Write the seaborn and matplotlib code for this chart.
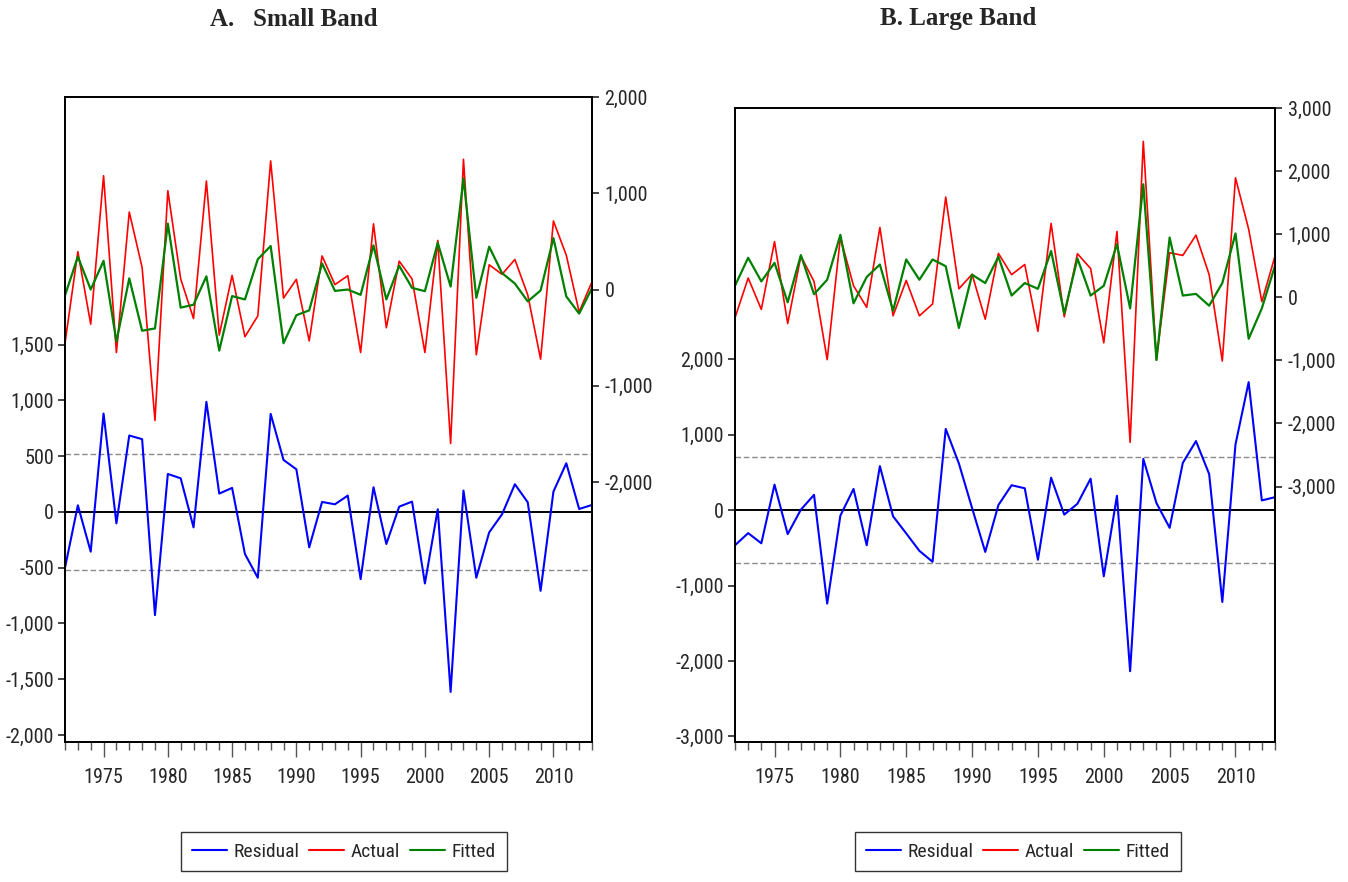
import matplotlib
matplotlib.use("Agg")
import matplotlib.pyplot as plt
from matplotlib.lines import Line2D
from matplotlib.ticker import FuncFormatter, MultipleLocator
from matplotlib import font_manager as fm
import seaborn as sns
import pandas as pd

# ---------------- data ----------------
years = list(range(1972, 2014))

# Panel A: Small Band
residual_a = [-500, 60, -356, 883, -102, 686, 653, -925, 341, 302,
              -138, 988, 165, 216, -377, -590, 880, 467, 383, -317,
              90, 69, 147, -602, 222, -287, 48, 93, -641, 24,
              -1614, 192, -590, -183, -21, 249, 87, -707, 183, 437,
              27, 63]
actual_a = [-558, 394, -360, 1182, -654, 805, 229, -1360, 1027, 110,
            -301, 1127, -473, 147, -490, -274, 1336, -89, 106, -534,
            349, 51, 144, -654, 682, -397, 295, 110, -654, 510,
            -1600, 1353, -678, 257, 158, 312, -55, -723, 712, 356,
            -233, 82]
fitted_a = [-62, 342, 0, 298, -541, 116, -428, -404, 685, -188,
            -158, 137, -634, -68, -103, 315, 452, -558, -267, -216,
            271, -14, 0, -55, 459, -103, 247, 17, -17, 486,
            31, 1154, -86, 445, 171, 62, -123, -10, 534, -72,
            -250, 14]
band_a = 520

# Panel B: Large Band
residual_b = [-467, -306, -441, 336, -319, 4, 201, -1240, -74, 279,
              -467, 581, -83, -310, -541, -686, 1074, 616, 26, -555,
              66, 328, 288, -659, 428, -61, 83, 415, -878, 188,
              -2135, 677, 92, -236, 624, 913, 476, -1218, 869, 1694,
              127, 170]
actual_b = [-326, 305, -193, 882, -417, 652, 251, -989, 947, 182,
            -160, 1107, -294, 267, -294, -107, 1588, 134, 364, -348,
            695, 358, 519, -540, 1171, -310, 690, 455, -722, 1043,
            -2300, 2471, -989, 706, 663, 984, 358, -1011, 1893, 1080,
            -70, 650]
fitted_b = [182, 626, 251, 545, -80, 668, 48, 278, 989, -96,
            321, 519, -214, 599, 278, 599, 492, -487, 358, 225,
            642, 27, 225, 134, 733, -257, 615, 27, 182, 840,
            -176, 1791, -995, 947, 27, 53, -134, 225, 1011, -658,
            -176, 500]
band_b = 700

titles = ["A.   Small Band", "B. Large Band"]
legend_labels = ["Residual", "Actual", "Fitted"]

# ---------------- style ----------------
sns.set_style("ticks")
plt.rcParams["font.family"] = ["Liberation Sans", "DejaVu Sans"]
plt.rcParams["axes.linewidth"] = 1.3


def find_narrow():
    """Pick a condensed sans font if one is installed."""
    prefs = ["Liberation Sans Narrow", "Arial Narrow", "Roboto Condensed",
             "Open Sans Condensed"]
    fl = fm.fontManager.ttflist
    for p in prefs:
        for f in fl:
            if f.name == p and f.weight in (400, "normal", "regular") and f.style == "normal":
                return fm.FontProperties(fname=f.fname), True
    for f in fl:
        fn = f.fname.lower()
        if "dejavusanscondensed.ttf" in fn:
            return fm.FontProperties(fname=f.fname), True
    return fm.FontProperties(family=["Liberation Sans", "DejaVu Sans"]), False


narrow_fp, is_narrow = find_narrow()
TICK_FS = 14.5 if is_narrow else 12.5
LEG_FS = 14 if is_narrow else 12

C_RES, C_ACT, C_FIT = "#0000ff", "#ff0000", "#008000"

fig = plt.figure(figsize=(13.48, 8.82), dpi=100)
W, H = 1348, 882


def fmt(v, pos):
    return f"{int(round(v)):,}"


def panel(rect, res, act, fit, band, lylim, lticks, rylim, rticks):
    ax = fig.add_axes(rect)
    ax2 = ax.twinx()
    df = pd.DataFrame({"year": years, "Residual": res, "Actual": act, "Fitted": fit})
    sns.lineplot(data=df, x="year", y="Actual", ax=ax2, color=C_ACT, lw=1.2)
    sns.lineplot(data=df, x="year", y="Fitted", ax=ax2, color=C_FIT, lw=1.6)
    sns.lineplot(data=df, x="year", y="Residual", ax=ax, color=C_RES, lw=1.5)
    ax.axhline(0, color="black", lw=1.4, zorder=1)
    for b in (band, -band):
        ax.axhline(b, color="#8a8a8a", ls=(0, (4, 2)), lw=1.0, zorder=1)
    ax.set_xlim(1972, 2013)
    ax.set_ylim(*lylim)
    ax2.set_ylim(*rylim)
    ax.set_yticks(lticks)
    ax2.set_yticks(rticks)
    for a in (ax, ax2):
        a.yaxis.set_major_formatter(FuncFormatter(fmt))
        a.set_xlabel("")
        a.set_ylabel("")
        for s in a.spines.values():
            s.set_visible(True)
            s.set_color("black")
            s.set_linewidth(1.3)
    ax.set_xticks([1975, 1980, 1985, 1990, 1995, 2000, 2005, 2010])
    ax.xaxis.set_minor_locator(MultipleLocator(1))
    ax.tick_params(axis="x", which="major", length=11, width=1.0, color="#555555", pad=8)
    ax.tick_params(axis="x", which="minor", length=6, width=1.0, color="#555555")
    ax.tick_params(axis="y", length=5, width=1.2, pad=3)
    ax2.tick_params(axis="y", length=5, width=1.2, pad=4)
    for lbl in ax.get_xticklabels() + ax.get_yticklabels() + ax2.get_yticklabels():
        lbl.set_fontproperties(narrow_fp)
        lbl.set_fontsize(TICK_FS)
    return ax, ax2


axA, axA2 = panel([65 / W, 140 / H, 527 / W, 645 / H],
                  residual_a, actual_a, fitted_a, band_a,
                  (-2063, 3722), list(range(-2000, 1501, 500)),
                  (-4700, 2000), list(range(-2000, 2001, 1000)))
axB, axB2 = panel([735 / W, 140 / H, 540 / W, 634 / H],
                  residual_b, actual_b, fitted_b, band_b,
                  (-3073, 5325), list(range(-3000, 2001, 1000)),
                  (-7050, 3000), list(range(-3000, 3001, 1000)))

# titles
fig.text(294 / W, 1 - 19 / H, titles[0], ha="center", va="center",
         family=["Liberation Serif", "DejaVu Serif"], fontweight="bold", fontsize=18)
fig.text(958 / W, 1 - 19 / H, titles[1], ha="center", va="center",
         family=["Liberation Serif", "DejaVu Serif"], fontweight="bold", fontsize=18)

# legends
handles = [Line2D([], [], color=C_RES, lw=1.5),
           Line2D([], [], color=C_ACT, lw=1.5),
           Line2D([], [], color=C_FIT, lw=1.5)]
leg_fp = narrow_fp.copy()
leg_fp.set_size(LEG_FS)
for x0 in (181, 855):
    leg = fig.legend(handles, legend_labels, loc="upper left",
                     bbox_to_anchor=(x0 / W, 1 - 832 / H), ncol=3,
                     frameon=True, fancybox=False, edgecolor="black",
                     prop=leg_fp, handlelength=1.8, handletextpad=0.35,
                     columnspacing=0.5, borderpad=0.55, borderaxespad=0)
    leg.get_frame().set_linewidth(1.0)

fig.savefig("out.png", dpi=100)
